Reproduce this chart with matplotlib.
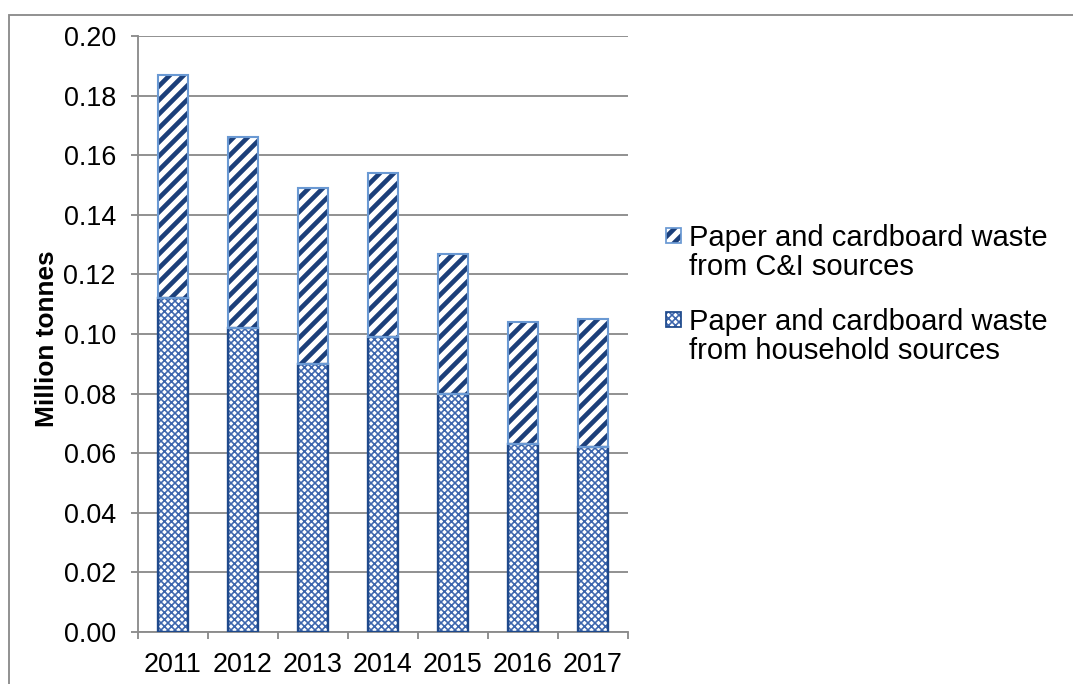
import matplotlib
matplotlib.use("Agg")
import matplotlib.pyplot as plt
from matplotlib.patches import Rectangle
import numpy as np

# Paper and cardboard waste, million tonnes
years = ["2011", "2012", "2013", "2014", "2015", "2016", "2017"]
household = [0.112, 0.102, 0.090, 0.099, 0.080, 0.063, 0.062]
commercial_industrial = [0.075, 0.064, 0.059, 0.055, 0.047, 0.041, 0.043]
labels = ["Paper and cardboard waste\nfrom C&I sources",
          "Paper and cardboard waste\nfrom household sources"]
y_ticks = [0.00, 0.02, 0.04, 0.06, 0.08, 0.10, 0.12, 0.14, 0.16, 0.18, 0.20]

W, H, DPI = 1073, 684, 84
plt.rcParams["font.family"] = ["Liberation Sans", "DejaVu Sans"]
plt.rcParams["hatch.linewidth"] = 4.5

NAVY = "#1b3f7a"
CI_EDGE = "#6a99d3"
HH_LINE = "#3d66ad"
HH_EDGE = "#1f4a8c"
GRID = "#8c8c8c"
CI_HATCH, HH_HATCH = "//", "xxxx"
CI_HLW, HH_HLW = 4.5, 1.4


def set_hlw(patches, lw):
    for p in patches:
        if hasattr(p, "set_hatch_linewidth"):
            p.set_hatch_linewidth(lw)


fig = plt.figure(figsize=(W / DPI, H / DPI), dpi=DPI)
ax = fig.add_axes([138 / W, (H - 632) / H, 490 / W, 596 / H])

x = np.arange(len(years))
bw = 0.43

# household segment: white with fine blue lattice
hh = ax.bar(x, household, bw, facecolor="white", edgecolor=HH_LINE,
            hatch=HH_HATCH, linewidth=0, zorder=3)
set_hlw(hh, HH_HLW)
ax.bar(x, household, bw, fill=False, edgecolor=HH_EDGE, linewidth=2.0, zorder=4)

# C&I segment: navy with wide white diagonal stripes
ci = ax.bar(x, commercial_industrial, bw, bottom=household, facecolor=NAVY,
            edgecolor="white", hatch=CI_HATCH, linewidth=0, zorder=3)
set_hlw(ci, CI_HLW)
ax.bar(x, commercial_industrial, bw, bottom=household, fill=False,
       edgecolor=CI_EDGE, linewidth=1.8, zorder=4)

ax.set_xlim(-0.5, len(years) - 0.5)
ax.set_ylim(0, 0.20)
ax.set_yticks(y_ticks)
ax.set_yticklabels([f"{v:.2f}" for v in y_ticks])
ax.set_xticks(x)
ax.set_xticklabels(years)
ax.set_xticks(np.arange(-0.5, len(years)), minor=True)

ax.grid(axis="y", color=GRID, linewidth=1.6, zorder=0)
ax.set_axisbelow(True)
for s in ["top", "right"]:
    ax.spines[s].set_visible(False)
for s in ["left", "bottom"]:
    ax.spines[s].set_color(GRID)
    ax.spines[s].set_linewidth(1.6)
    ax.spines[s].set_zorder(2)

ax.tick_params(axis="y", length=6, width=1.6, color=GRID, pad=13.0,
               labelsize=23, labelcolor="black")
ax.tick_params(axis="x", which="major", length=0, pad=17, labelsize=23,
               labelcolor="black")
ax.tick_params(axis="x", which="minor", length=6, width=1.6, color=GRID)

fig.text(47 / W, 1 - 339 / H, "Million tonnes", rotation=90, fontsize=22.5,
         fontweight="bold", ha="center", va="center")

# outer chart frame
fig.patches.append(Rectangle((9 / W, -0.1), 1.2, 1 - 15 / H + 0.1,
                             transform=fig.transFigure, fill=False,
                             edgecolor=GRID, linewidth=1.6))

# legend: square key aligned with the first line of each two-line label
key_styles = [
    dict(facecolor=NAVY, edgecolor="white", hatch=CI_HATCH, hlw=CI_HLW,
         border=CI_EDGE),
    dict(facecolor="white", edgecolor=HH_LINE, hatch=HH_HATCH, hlw=HH_HLW,
         border=HH_EDGE),
]
first_baselines = [246, 330]
line_step = 29
for label, base, st in zip(labels, first_baselines, key_styles):
    key = Rectangle((666 / W, 1 - (base - 3) / H), 15 / W, 15 / H,
                    transform=fig.transFigure, facecolor=st["facecolor"],
                    edgecolor=st["edgecolor"], hatch=st["hatch"], linewidth=0)
    set_hlw([key], st["hlw"])
    fig.patches.append(key)
    fig.patches.append(Rectangle((666 / W, 1 - (base - 3) / H), 15 / W, 15 / H,
                                 transform=fig.transFigure, fill=False,
                                 edgecolor=st["border"], linewidth=1.5))
    for i, line in enumerate(label.split("\n")):
        fig.text(689 / W, 1 - (base + i * line_step) / H, line, fontsize=25,
                 ha="left", va="baseline")

fig.savefig("out.png", dpi=DPI)
